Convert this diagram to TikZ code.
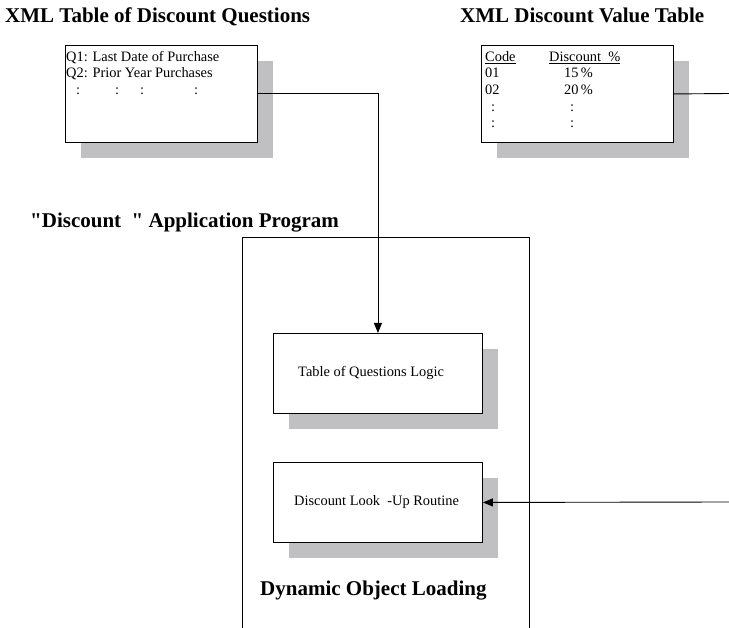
\documentclass[tikz,border=0pt]{standalone}
\usepackage{fontspec}
\setmainfont{Liberation Serif}[Ligatures=TeXOff]
\usetikzlibrary{arrows.meta,shadows}
\definecolor{shadowgray}{RGB}{192,192,194}
\begin{document}
\begin{tikzpicture}[x=1pt,y=-1pt,
  box/.style={draw,line width=0.9pt,fill=white,rectangle,inner sep=0pt,anchor=north west,
    general shadow={fill=shadowgray,draw=none,shadow xshift=16pt,shadow yshift=-16pt}},
  title/.style={anchor=base west,inner sep=0pt,font=\fontsize{21}{25}\selectfont\bfseries},
  txt/.style={anchor=base west,inner sep=0pt,font=\fontsize{14.4}{17}\selectfont},
  conn/.style={line width=0.9pt},
  arr/.style={line width=0.9pt,-{Triangle[length=10pt,width=8pt]}}]
\useasboundingbox (0,0) rectangle (729,628);
% titles
\node[title] (t1) at (5,23) {XML Table of Discount Questions};
\node[title] (t2) at (460,23) {XML Discount Value Table};
\node[title] (t3) at (30,228) {"Discount\ \ "\ Application Program};
% application program frame
\draw[conn] (242,628) -- (242,237) -- (529,237) -- (529,628);
% boxes
\node[box,minimum width=192pt,minimum height=97pt] (q) at (65,45) {};
\node[box,minimum width=192pt,minimum height=97pt] (v) at (481,45) {};
\node[box,minimum width=209pt,minimum height=80pt] (tq) at (273,333) {};
\node[box,minimum width=209pt,minimum height=80pt] (dl) at (273,462) {};
% question table text
\node[txt] (q1) at (66,62) {Q1: Last Date of Purchase};
\node[txt] (q2) at (66,78) {Q2: Prior Year Purchases};
\node[txt] (qc1) at (76,95) {:};
\node[txt] (qc2) at (115,95) {:};
\node[txt] (qc3) at (140,95) {:};
\node[txt] (qc4) at (194,95) {:};
% value table text
\node[txt] (vh1) at (485,62) {\underline{Code}};
\node[txt] (vh2) at (549,62) {\underline{Discount\ \ \%}};
\node[txt] (v11) at (485,78) {01};
\node[txt] (v12) at (564,78) {15\,\%};
\node[txt] (v21) at (485,95) {02};
\node[txt] (v22) at (564,95) {20\,\%};
\node[txt] (v31) at (491,112) {:};
\node[txt] (v32) at (570,112) {:};
\node[txt] (v41) at (491,128) {:};
\node[txt] (v42) at (570,128) {:};
% box labels
\node[txt] (tql) at (298,377) {Table of Questions Logic};
\node[txt] (dll) at (294,506) {Discount Look\ \ -Up Routine};
\node[title] (dol) at (260,595) {Dynamic Object Loading};
% connectors
\coordinate (vr) at (729,93.5);
\coordinate (dr) at (729,502);
\draw[arr] (q.east) -| (tq.north);
\draw[conn] (v.east) -- (vr);
\draw[arr] (dr) -- (dl.east);
\end{tikzpicture}
\end{document}
